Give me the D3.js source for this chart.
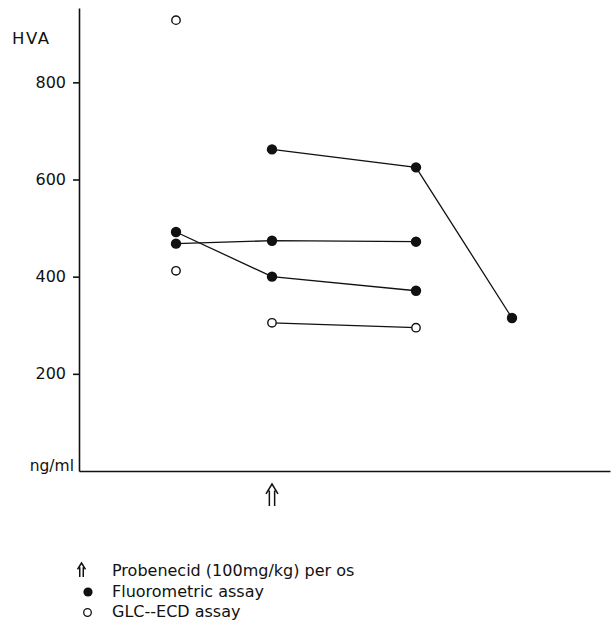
<!DOCTYPE html>
<html>
<head>
<meta charset="utf-8">
<script src="https://cdn.jsdelivr.net/npm/d3@7"></script>
<style>
  html, body { margin: 0; padding: 0; background: #fff; }
  svg { display: block; }
  text { font-family: "DejaVu Sans", sans-serif; fill: #111; }
</style>
</head>
<body>
<div id="chart"></div>
<script>
// ---- data (times in relative units; values in ng/ml HVA) ----
const yTicks = [200, 400, 600, 800];
const times = [0, 1, 2.5, 3.5];
const probenecidTime = 1;

// fluorometric assay series (connected)
const fluoroA = [{t: 1, v: 662}, {t: 2.5, v: 625}, {t: 3.5, v: 315}];
const fluoroB = [{t: 0, v: 468}, {t: 1, v: 474}, {t: 2.5, v: 472}];
const fluoroC = [{t: 0, v: 492}, {t: 1, v: 400}, {t: 2.5, v: 371}];
// GLC-ECD assay
const glcLine = [{t: 1, v: 305}, {t: 2.5, v: 295}];
const glcSingle = [{t: 0, v: 928}, {t: 0, v: 412}];

const legendItems = ["Probenecid (100mg/kg) per os", "Fluorometric assay", "GLC--ECD assay"];

// ---- layout ----
const W = 613, H = 628;
const svg = d3.select("#chart").append("svg").attr("width", W).attr("height", H);

const x = d3.scaleLinear().domain([-1.0104, 4.521]).range([79, 610]);
const y = d3.scaleLinear().domain([0, 953]).range([471, 8]);

const ink = "#111";

// y axis
const yAxis = d3.axisLeft(y).tickValues(yTicks).tickSize(6).tickPadding(7).tickSizeOuter(0);
const gy = svg.append("g").attr("transform", `translate(${x.range()[0]},0)`).call(yAxis);
gy.select(".domain").attr("stroke", ink).attr("stroke-width", 1.6);
gy.selectAll(".tick line").attr("stroke", ink).attr("stroke-width", 1.6);
gy.selectAll(".tick text").attr("font-family", "DejaVu Sans, sans-serif").attr("font-size", 16).attr("fill", ink);

// x axis (no ticks)
const xAxis = d3.axisBottom(x).tickValues([]).tickSizeOuter(0);
const gx = svg.append("g").attr("transform", `translate(0,${y(0)})`).call(xAxis);
gx.select(".domain").attr("stroke", ink).attr("stroke-width", 1.6);

// axis labels
svg.append("text").attr("x", 12).attr("y", 44).attr("font-size", 16.5)
  .attr("letter-spacing", 1.5).text("HVA");
svg.append("text").attr("x", 74).attr("y", y(0)).attr("text-anchor", "end")
  .attr("font-size", 15.5).text("ng/ml");

// lines
const line = d3.line().x(d => x(d.t)).y(d => y(d.v));
[fluoroA, fluoroB, fluoroC, glcLine].forEach(s => {
  svg.append("path").datum(s).attr("d", line)
    .attr("fill", "none").attr("stroke", ink).attr("stroke-width", 1.3);
});

// filled points
const filled = [].concat(fluoroA, fluoroB, fluoroC);
svg.selectAll("circle.f").data(filled).enter().append("circle")
  .attr("class", "f").attr("cx", d => x(d.t)).attr("cy", d => y(d.v))
  .attr("r", 5.2).attr("fill", ink);

// open points
const open = [].concat(glcLine, glcSingle);
svg.selectAll("circle.o").data(open).enter().append("circle")
  .attr("class", "o").attr("cx", d => x(d.t)).attr("cy", d => y(d.v))
  .attr("r", 4.2).attr("fill", "#fff").attr("stroke", ink).attr("stroke-width", 1.4);

// hollow double arrow
function arrow(g, cx, top, w, h) {
  const hw = w / 2, sh = w * 0.22;
  const headY = top + h * 0.45;
  g.append("path")
    .attr("d", `M${cx - hw},${headY} L${cx},${top} L${cx + hw},${headY}
                M${cx - sh},${top + h * 0.3} L${cx - sh},${top + h}
                M${cx + sh},${top + h * 0.3} L${cx + sh},${top + h}`)
    .attr("fill", "none").attr("stroke", ink).attr("stroke-width", 1.5)
    .attr("stroke-linejoin", "miter");
}
arrow(svg, x(probenecidTime), 484, 12, 22);

// legend
const lgX = 112;
const lgY = [576, 597, 617];
arrow(svg, 81.5, 563, 8, 14);
svg.append("circle").attr("cx", 88).attr("cy", 592).attr("r", 4.6).attr("fill", ink);
svg.append("circle").attr("cx", 87.5).attr("cy", 612.5).attr("r", 3.8)
  .attr("fill", "#fff").attr("stroke", ink).attr("stroke-width", 1.3);
legendItems.forEach((t, i) => {
  svg.append("text").attr("x", lgX).attr("y", lgY[i]).attr("font-size", 16).text(t);
});
</script>
</body>
</html>
